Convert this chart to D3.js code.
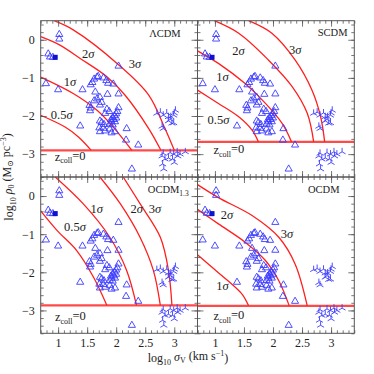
<!DOCTYPE html>
<html><head><meta charset="utf-8">
<script src="https://cdn.jsdelivr.net/npm/d3@7"></script>
<style>
body{margin:0;background:#fff}
text{font-family:"Liberation Serif","DejaVu Serif",serif;fill:#222}
</style>
</head><body>
<svg id="c" width="374" height="374"></svg>
<script>
// ---------- data ----------
const triX = [1.02,1.02,0.83,0.86,0.91,0.79,1.00,1.42,1.38,2.04,
  1.62,1.67,1.69,1.59,1.56,1.78,1.83,1.86,1.95,1.64,
  2.04,1.85,1.62,1.67,1.72,1.75,1.72,1.54,1.56,1.55,
  1.84,1.88,2.04,2.02,1.81,1.72,1.75,1.79,1.71,1.78,1.72,
  1.94,1.96,1.92,1.98,1.89,1.94,2.00,2.00,1.97,1.91,
  1.81,1.89,1.98,1.92,2.18,2.17,2.38,2.27];
const triY = [0.14,0.02,-0.37,-0.45,-0.46,-1.15,-1.31,-1.31,-2.26,-0.69,
  -1.03,-0.98,-0.96,-1.12,-1.18,-1.00,-1.07,-1.14,-1.16,-1.37,
  -1.42,-1.43,-1.60,-1.55,-1.51,-1.64,-1.71,-1.72,-1.79,-1.86,
  -1.82,-1.88,-1.78,-1.88,-1.93,-2.13,-2.17,-2.22,-2.31,-2.32,-2.41,
  -2.04,-2.09,-2.15,-2.15,-2.21,-2.23,-2.05,-1.94,-1.99,-2.10,
  -2.39,-2.34,-2.41,-2.44,-2.33,-2.63,-2.76,-3.39];
const starX = [2.70,2.76,2.81,2.87,2.90,2.94,3.02,2.99,2.90,2.99,2.79,2.81,2.96,3.00,2.93,
  2.81,2.79,2.84,2.80,2.82,2.93,2.99,3.05,3.10,3.19,2.90,2.97,3.00,3.06];
const starY = [-1.93,-1.90,-1.98,-1.92,-2.02,-2.02,-1.85,-1.98,-2.13,-2.18,-2.27,-2.33,-2.19,-1.92,-2.09,
  -2.98,-3.05,-3.13,-3.26,-3.39,-2.96,-3.00,-2.94,-3.00,-2.94,-3.10,-3.13,-3.22,-3.05];
const squareX = [0.95], squareY = [-0.46];

const panelNames = ["ΛCDM","SCDM","OCDM","OCDM"];
const panelSub   = ["","","1.3",""];
const zcollLevel = [-2.90,-2.68,-2.87,-2.88];

// red curves (log sigma, log rho) read along each arc
const lcdm05 = [[0.70,-1.98],[1.12,-2.29],[1.35,-2.55],[1.57,-2.90]];
const lcdm1  = [[0.70,-0.98],[1.26,-1.41],[1.67,-1.85],[1.95,-2.29],[2.27,-2.90]];
const lcdm2  = [[0.70,0.08],[1.03,-0.14],[1.38,-0.49],[1.84,-0.97],[2.15,-1.45],[2.56,-2.33],[2.77,-2.90]];
const lcdm3  = [[0.93,0.50],[1.26,0.26],[2.03,-0.64],[2.56,-1.45],[2.84,-2.33],[3.00,-2.90]];
const scdm05 = [[0.70,-1.32],[1.06,-1.67],[1.41,-2.02],[1.64,-2.37],[1.75,-2.68]];
const scdm1  = [[0.70,-0.29],[1.06,-0.62],[1.52,-1.15],[1.87,-1.67],[2.16,-2.20],[2.32,-2.68]];
const scdm2  = [[0.99,0.50],[1.41,0.17],[1.92,-0.53],[2.33,-1.23],[2.59,-1.93],[2.70,-2.68]];
const scdm3  = [[1.58,0.50],[1.98,0.17],[2.38,-0.53],[2.67,-1.32],[2.82,-2.02],[2.89,-2.68]];
const ocdm13_05 = [[0.70,-0.39],[0.98,-0.90],[1.32,-1.43],[1.61,-2.13],[1.84,-2.87]];
const ocdm13_1  = [[0.95,0.50],[1.43,-0.20],[1.89,-1.08],[2.18,-1.95],[2.35,-2.87]];
const ocdm13_2  = [[1.72,0.50],[2.07,-0.20],[2.41,-1.08],[2.64,-1.95],[2.76,-2.87]];
const ocdm13_3  = [[2.12,0.50],[2.41,-0.20],[2.76,-1.08],[2.90,-1.95],[2.96,-2.87]];
const ocdm1  = [[0.70,-1.54],[0.95,-1.87],[1.23,-2.23],[1.47,-2.58],[1.58,-2.88]];
const ocdm2  = [[0.70,-0.35],[1.06,-0.73],[1.52,-1.21],[1.87,-1.69],[2.10,-2.22],[2.28,-2.88]];
const ocdm3  = [[0.70,0.30],[1.06,-0.04],[1.64,-0.51],[2.10,-1.08],[2.38,-1.78],[2.59,-2.88]];
const panelCurves = [[lcdm05,lcdm1,lcdm2,lcdm3],[scdm05,scdm1,scdm2,scdm3],
  [ocdm13_05,ocdm13_1,ocdm13_2,ocdm13_3],[ocdm1,ocdm2,ocdm3]];

const xTickLabels = [1,1.5,2,2.5,3];
const yTickLabels = [-3,-2,-1,0];

// ---------- layout ----------
const L = 40.7, T = 20.7, W = 156.8, H = 156.3;
const svg = d3.select("#c");
const x = d3.scaleLinear().domain([0.7,3.4]).range([0,W]);
const y = d3.scaleLinear().domain([-3.6,0.5]).range([H,0]);
const red = "#ff1f1f", blue = "#3b3bff", frame = "#555";

// label positions in panel pixels [text, cx, cy, anchor]
const labelPos = [
  [["2σ",47.6,32.6],["3σ",94.3,42.6],["1σ",29.3,61],["0.5σ",21,94.3]],
  [["2σ",41,30],["3σ",97.7,28.6],["1σ",25,56],["0.5σ",21,98.6]],
  [["1σ",56,31.6],["2σ",96,31.6],["3σ",114.3,31.6],["0.5σ",34.3,49.3]],
  [["2σ",29.4,37.3],["3σ",89.4,56.6],["1σ",25,108.3]]
];
const namePos = [[140,12.6],[150,11.6],[148,12.6],[142,12.6]];
const zPos = [[14,136],[16,129.3],[14.3,140],[16,139]];

const line = d3.line().x(d=>x(d[0])).y(d=>y(d[1])).curve(d3.curveCatmullRom.alpha(0.5));
const fmt = d => d<0 ? "\u2212"+Math.abs(d) : String(d);

svg.append("defs").append("clipPath").attr("id","clip")
  .append("rect").attr("width",W).attr("height",H);

for (let p=0;p<4;p++){
  const col=p%2,row=Math.floor(p/2);
  const g = svg.append("g").attr("transform",`translate(${L+col*W},${T+row*H})`);
  const pl = g.append("g").attr("clip-path","url(#clip)");

  // z_coll=0 line
  pl.append("line").attr("x1",0).attr("x2",W)
    .attr("y1",y(zcollLevel[p])).attr("y2",y(zcollLevel[p]))
    .attr("stroke","#ff4a4a").attr("stroke-width",2.2);
  // curves
  panelCurves[p].forEach(c=>{
    pl.append("path").attr("d",line(c)).attr("fill","none")
      .attr("stroke",red).attr("stroke-width",1.3);
  });
  // triangles
  const triPath = d3.symbol().type(d3.symbolTriangle).size(22)();
  pl.selectAll(".tri").data(triX.map((v,i)=>[v,triY[i]])).join("path")
    .attr("d",triPath).attr("transform",d=>`translate(${x(d[0])},${y(d[1])})`)
    .attr("fill","none").attr("stroke",blue).attr("stroke-width",0.9);
  // tri-stars
  const sp = "M0,0L0,-4M0,0L3.46,2M0,0L-3.46,2";
  pl.selectAll(".star").data(starX.map((v,i)=>[v,starY[i]])).join("path")
    .attr("d",sp).attr("transform",d=>`translate(${x(d[0])},${y(d[1])})`)
    .attr("fill","none").attr("stroke",blue).attr("stroke-width",0.9);
  // filled square
  pl.selectAll(".sq").data(squareX.map((v,i)=>[v,squareY[i]])).join("rect")
    .attr("x",d=>x(d[0])-2.5).attr("y",d=>y(d[1])-2.5).attr("width",5).attr("height",5)
    .attr("fill","#1010d0");

  // axes (inward ticks, all four sides)
  const xMinor = d3.range(7,35).map(v=>v/10);
  const yMinor = d3.range(-18,3).map(v=>v/5);
  const addAx = (ax, tr) => {
    const a = g.append("g").attr("transform",tr).call(ax);
    a.select(".domain").remove();
    a.selectAll("line").attr("stroke",frame).attr("stroke-width",0.8);
    return a;
  };
  addAx(d3.axisBottom(x).tickValues(xMinor).tickSize(-3).tickFormat(""),`translate(0,${H})`);
  addAx(d3.axisTop(x).tickValues(xMinor).tickSize(-3).tickFormat(""),"translate(0,0)");
  addAx(d3.axisLeft(y).tickValues(yMinor).tickSize(-3).tickFormat(""),"translate(0,0)");
  addAx(d3.axisRight(y).tickValues(yMinor).tickSize(-3).tickFormat(""),`translate(${W},0)`);
  const xb = addAx(d3.axisBottom(x).tickValues(xTickLabels).tickSize(-6).tickPadding(5)
      .tickFormat(row===1?fmt:""),`translate(0,${H})`);
  addAx(d3.axisTop(x).tickValues(xTickLabels).tickSize(-6).tickFormat(""),"translate(0,0)");
  const yl = addAx(d3.axisLeft(y).tickValues(yTickLabels).tickSize(-6).tickPadding(6)
      .tickFormat(col===0?fmt:""),"translate(0,0)");
  addAx(d3.axisRight(y).tickValues(yTickLabels).tickSize(-6).tickFormat(""),`translate(${W},0)`);
  [xb,yl].forEach(a=>a.selectAll("text").attr("font-size",12)
      .attr("font-family",'"Liberation Serif","DejaVu Serif",serif').attr("fill","#222"));

  g.append("rect").attr("width",W).attr("height",H).attr("fill","none")
    .attr("stroke",frame).attr("stroke-width",1);

  // labels
  labelPos[p].forEach(([t,cx,cy])=>{
    const tx = g.append("text").attr("x",cx).attr("y",cy).attr("dy","0.35em")
      .attr("text-anchor","middle").attr("font-size",12.5);
    const num = t.replace("σ","");
    tx.append("tspan").text(num);
    tx.append("tspan").attr("font-style","italic").text("σ");
  });
  const nm = g.append("text").attr("x",namePos[p][0]).attr("y",namePos[p][1]).attr("dy","0.35em")
    .attr("text-anchor","end").attr("font-size",10.5);
  nm.append("tspan").text(panelNames[p]);
  if (panelSub[p]) nm.append("tspan").attr("font-size",7.5).attr("dy","0.35em").text(panelSub[p]);
  const zt = g.append("text").attr("x",zPos[p][0]).attr("y",zPos[p][1]).attr("dy","0.35em")
    .attr("font-size",12.5);
  zt.append("tspan").text("z");
  zt.append("tspan").attr("font-size",8).attr("dy","0.3em").text("coll");
  zt.append("tspan").attr("dy","-0.3em").attr("font-size",12.5).text("=0");
}

// axis titles
const xt = svg.append("text").attr("x",188).attr("y",358).attr("dy","0.35em")
  .attr("text-anchor","middle").attr("font-size",12);
xt.append("tspan").text("log");
xt.append("tspan").attr("font-size",8).attr("dy","0.3em").text("10");
xt.append("tspan").attr("dy","-0.3em").attr("font-style","italic").text(" σ");
xt.append("tspan").attr("font-size",8).attr("dy","0.3em").text("V");
xt.append("tspan").attr("dy","-0.3em").text("  (km s");
xt.append("tspan").attr("font-size",8).attr("dy","-0.45em").text("−1");
xt.append("tspan").attr("dy","0.45em").text(")");

const yt = svg.append("text").attr("transform","translate(9,177) rotate(-90)")
  .attr("dy","0.35em").attr("text-anchor","middle").attr("font-size",12);
yt.append("tspan").text("log");
yt.append("tspan").attr("font-size",8).attr("dy","0.3em").text("10");
yt.append("tspan").attr("dy","-0.3em").attr("font-style","italic").text(" ρ");
yt.append("tspan").attr("font-size",8).attr("dy","0.3em").text("0");
yt.append("tspan").attr("dy","-0.3em").text("  (M");
yt.append("tspan").attr("font-size",8).attr("dy","0.3em").text("⊙");
yt.append("tspan").attr("dy","-0.3em").text(" pc");
yt.append("tspan").attr("font-size",8).attr("dy","-0.45em").text("−3");
yt.append("tspan").attr("dy","0.45em").text(")");
</script>
</body></html>
